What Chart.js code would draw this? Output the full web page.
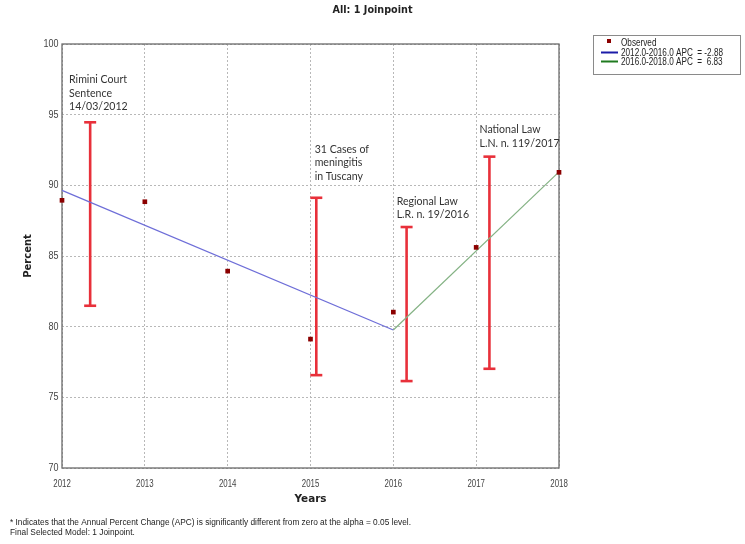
<!DOCTYPE html>
<html><head><meta charset="utf-8">
<script src="https://cdn.jsdelivr.net/npm/chart.js@4/dist/chart.umd.min.js"></script>
<style>html,body{margin:0;padding:0;background:#fff;}</style>
</head><body>
<canvas id="c" width="745" height="544"></canvas>
<script>
// ---- data ----
const years = [2012, 2013, 2014, 2015, 2016, 2017, 2018];
const observed = [88.94, 88.84, 83.93, 79.12, 81.03, 85.61, 90.92];
const seg1Years = [2012, 2016];
const seg1Values = [89.64, 79.76];
const seg2Years = [2016, 2018];
const seg2Values = [79.76, 90.95];
const ciYears = [2012.34, 2015.07, 2016.16, 2017.16];
const ciLow = [81.48, 76.57, 76.15, 77.02];
const ciHigh = [94.46, 89.12, 87.05, 92.03];
const yTicks = [70, 75, 80, 85, 90, 95, 100];
const annotYears = [2012.085, 2015.05, 2016.04, 2017.04];
const annotValues = [97.52, 92.57, 88.89, 93.96];
const annotTexts = [
  ["Rimini Court", "Sentence", "14/03/2012"],
  ["31 Cases of", "meningitis", "in Tuscany"],
  ["Regional Law", "L.R. n. 19/2016"],
  ["National Law", "L.N. n. 119/2017"]
];
const legendLabels = ["Observed", "2012.0-2016.0 APC  = -2.88", "2016.0-2018.0 APC  =  6.83"];
const titleText = "All: 1 Joinpoint";
const xTitle = "Years";
const yTitle = "Percent";
const footnotes = [
  "* Indicates that the Annual Percent Change (APC) is significantly different from zero at the alpha = 0.05 level.",
  "Final Selected Model: 1 Joinpoint."
];

// ---- helpers ----
function drawFit(ctx, text, x, y, font, color, align, sx) {
  ctx.save();
  ctx.font = font;
  ctx.fillStyle = color;
  ctx.textBaseline = 'middle';
  const w = ctx.measureText(text).width * sx;
  let x0 = x;
  if (align === 'center') x0 = x - w / 2;
  else if (align === 'right') x0 = x - w;
  ctx.translate(x0, y);
  ctx.scale(sx, 1);
  ctx.textAlign = 'left';
  ctx.fillText(text, 0, 0);
  ctx.restore();
}
function fitScale(ctx, text, font, target) {
  ctx.save(); ctx.font = font;
  const w = ctx.measureText(text).width;
  ctx.restore();
  return target / w;
}

const decor = {
  id: 'decor',
  beforeDatasetsDraw(chart) {
    const ctx = chart.ctx, a = chart.chartArea;
    ctx.save();
    ctx.strokeStyle = '#6a6a6a';
    ctx.lineWidth = 1.3;
    ctx.strokeRect(a.left, a.top, a.right - a.left, a.bottom - a.top);
    ctx.restore();
  },
  afterDraw(chart) {
    const ctx = chart.ctx, a = chart.chartArea;
    const xs = chart.scales.x, ys = chart.scales.y;
    // title
    const tFont = 'bold 10px "DejaVu Sans"';
    drawFit(ctx, titleText, (a.left + a.right) / 2 + 62, 10.5, tFont, '#222', 'center', fitScale(ctx, titleText, tFont, 80));
    // x title
    drawFit(ctx, xTitle, (a.left + a.right) / 2, 499, tFont, '#222', 'center', fitScale(ctx, xTitle, tFont, 32));
    // y title (rotated)
    ctx.save();
    ctx.translate(28, (a.top + a.bottom) / 2);
    ctx.rotate(-Math.PI / 2);
    ctx.font = tFont; ctx.fillStyle = '#222'; ctx.textAlign = 'center'; ctx.textBaseline = 'middle';
    ctx.fillText(yTitle, 0, 0);
    ctx.restore();
    // tick labels
    const tickFont = '10.5px "Liberation Sans"';
    const sxX = fitScale(ctx, '2012', tickFont, 17.5);
    xs.ticks.forEach(t => {
      drawFit(ctx, String(t.value), xs.getPixelForValue(t.value), 484, tickFont, '#444', 'center', sxX);
    });
    const sxY = fitScale(ctx, '100', tickFont, 15);
    yTicks.forEach(v => {
      drawFit(ctx, String(v), 58.5, ys.getPixelForValue(v), tickFont, '#444', 'right', sxY);
    });
    // annotations
    const aFont = '12px Lato';
    const sxA = fitScale(ctx, 'Rimini Court', aFont, 58);
    annotTexts.forEach((lines, i) => {
      const px = xs.getPixelForValue(annotYears[i]);
      const py = ys.getPixelForValue(annotValues[i]);
      lines.forEach((ln, j) => drawFit(ctx, ln, px, py + j * 13.6, aFont, '#333', 'left', sxA));
    });
    // legend
    ctx.save();
    ctx.strokeStyle = '#8a8a8a'; ctx.lineWidth = 1;
    ctx.strokeRect(593.5, 35.5, 147, 39);
    ctx.fillStyle = '#8b0000';
    ctx.fillRect(607, 39, 4, 4);
    ctx.lineWidth = 2;
    ctx.strokeStyle = '#1c1ca8';
    ctx.beginPath(); ctx.moveTo(601, 52.5); ctx.lineTo(618, 52.5); ctx.stroke();
    ctx.strokeStyle = '#1f7a1f';
    ctx.beginPath(); ctx.moveTo(601, 61.5); ctx.lineTo(618, 61.5); ctx.stroke();
    ctx.restore();
    const lFont = '10px "Liberation Sans"';
    const sxL = fitScale(ctx, legendLabels[1], lFont, 102);
    const ly = [43.5, 53, 62.5];
    legendLabels.forEach((t, i) => drawFit(ctx, t, 621, ly[i], lFont, '#222', 'left', sxL));
    // footnotes
    const fFont = '8.5px "Liberation Sans"';
    const sxF = fitScale(ctx, footnotes[0], fFont, 401);
    drawFit(ctx, footnotes[0], 10, 522.5, fFont, '#222', 'left', sxF);
    drawFit(ctx, footnotes[1], 10, 532.5, fFont, '#222', 'left', sxF);
  }
};

const toPts = (xsArr, ysArr) => xsArr.map((x, i) => ({ x: x, y: ysArr[i] }));
const datasets = [];
ciYears.forEach((x, i) => {
  datasets.push({
    data: [{ x: x, y: ciLow[i] }, { x: x, y: ciHigh[i] }],
    borderColor: '#e8303a', borderWidth: 2.6,
    pointStyle: 'line', pointRadius: 6, pointHoverRadius: 6,
    pointBorderColor: '#e8303a', pointBorderWidth: 2.6,
    clip: false, order: 3
  });
});
datasets.push({
  data: toPts(seg1Years, seg1Values), borderColor: '#6e6ed8', borderWidth: 1.2,
  pointRadius: 0, clip: false, order: 2
});
datasets.push({
  data: toPts(seg2Years, seg2Values), borderColor: '#84b284', borderWidth: 1.2,
  pointRadius: 0, clip: false, order: 2
});
datasets.push({
  data: toPts(years, observed), showLine: false, pointStyle: 'rect',
  pointRadius: 3.3, pointHoverRadius: 3.3, backgroundColor: '#8b0000', borderColor: '#8b0000',
  pointBorderWidth: 0, clip: false, order: 1
});

new Chart(document.getElementById('c'), {
  type: 'line',
  data: { datasets: datasets },
  plugins: [decor],
  options: {
    responsive: false, animation: false,
    layout: { padding: { left: 0, top: 44, right: 186, bottom: 76 } },
    plugins: { legend: { display: false }, tooltip: { enabled: false }, title: { display: false } },
    elements: { line: { tension: 0 } },
    scales: {
      x: {
        type: 'linear', min: 2012, max: 2018,
        ticks: { display: false, stepSize: 1 },
        grid: { color: '#b8b8b8', lineWidth: 1, drawTicks: false },
        border: { display: false, dash: [2, 2] },
        afterFit: s => { s.height = 0; }
      },
      y: {
        type: 'linear', min: 70, max: 100,
        ticks: { display: false, stepSize: 5 },
        grid: { color: '#b8b8b8', lineWidth: 1, drawTicks: false },
        border: { display: false, dash: [2, 2] },
        afterFit: s => { s.width = 62; }
      }
    }
  }
});
</script>
</body></html>
